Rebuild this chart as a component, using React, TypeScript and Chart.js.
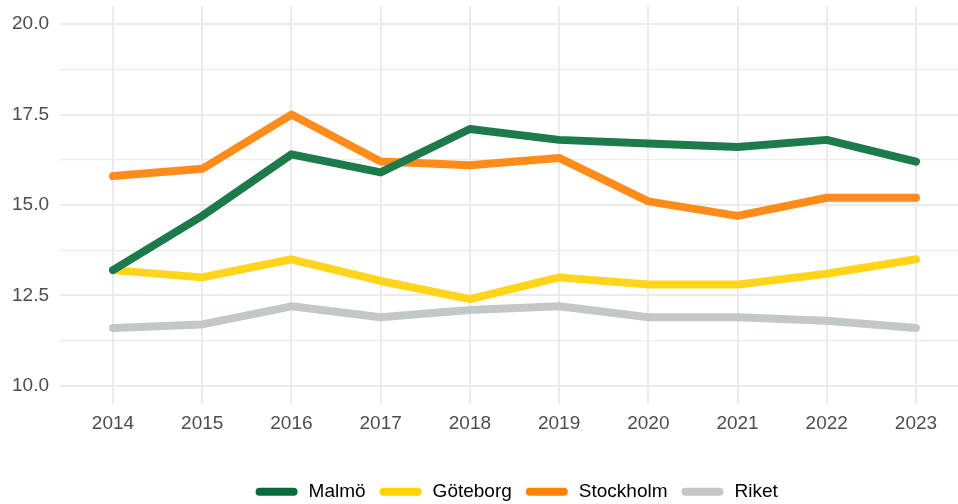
import { useEffect, useRef } from "react";
import { Chart, registerables } from "chart.js";

Chart.register(...registerables);

const years = [2014, 2015, 2016, 2017, 2018, 2019, 2020, 2021, 2022, 2023];
const malmo = [13.2, 14.7, 16.4, 15.9, 17.1, 16.8, 16.7, 16.6, 16.8, 16.2];
const goteborg = [13.2, 13.0, 13.5, 12.9, 12.4, 13.0, 12.8, 12.8, 13.1, 13.5];
const stockholm = [15.8, 16.0, 17.5, 16.2, 16.1, 16.3, 15.1, 14.7, 15.2, 15.2];
const riket = [11.6, 11.7, 12.2, 11.9, 12.1, 12.2, 11.9, 11.9, 11.8, 11.6];

const seriesNames = ["Malmö", "Göteborg", "Stockholm", "Riket"];
const seriesValues = [malmo, goteborg, stockholm, riket];
const lineColors = ["#1d7a4b", "#ffd51c", "#ff8c1a", "#c2c7c8"];
const legendColors = ["#086b39", "#ffd400", "#ff8300", "#c3c7c8"];

const yMajorTicks = [10, 12.5, 15, 17.5, 20];
const yMinorTicks = [11.25, 13.75, 16.25, 18.75];

const FONT = "'Liberation Sans', Arial, Helvetica, sans-serif";

const legendStyle = {
  centerX: 516.7,
  centerY: 491.7,
  keyWidth: 42,
  keyThickness: 8,
  keyTextGap: 11,
  itemGap: 14,
  fontSize: 19,
};

const customLegend = {
  id: "customLegend",
  afterDraw(chart: any) {
    const ctx = chart.ctx as CanvasRenderingContext2D;
    const s = legendStyle;
    ctx.save();
    ctx.font = `${s.fontSize}px ${FONT}`;
    const widths = seriesNames.map((n) => ctx.measureText(n).width);
    const total =
      widths.reduce((a, b) => a + b, 0) +
      seriesNames.length * (s.keyWidth + s.keyTextGap) +
      (seriesNames.length - 1) * s.itemGap;
    let x = s.centerX - total / 2;
    seriesNames.forEach((name, i) => {
      ctx.beginPath();
      ctx.lineCap = "round";
      ctx.lineWidth = s.keyThickness;
      ctx.strokeStyle = legendColors[i];
      const r = s.keyThickness / 2;
      ctx.moveTo(x + r, s.centerY);
      ctx.lineTo(x + s.keyWidth - r, s.centerY);
      ctx.stroke();
      x += s.keyWidth + s.keyTextGap;
      ctx.fillStyle = "#000000";
      ctx.textBaseline = "middle";
      ctx.textAlign = "left";
      ctx.fillText(name, x, s.centerY + 0.5);
      x += widths[i] + s.itemGap;
    });
    ctx.restore();
  },
};

export default function App() {
  const ref = useRef<HTMLCanvasElement | null>(null);

  useEffect(() => {
    if (!ref.current) return;
    const chart = new Chart(ref.current, {
      type: "line",
      data: {
        datasets: seriesNames.map((name, i) => ({
          label: name,
          data: years.map((yr, j) => ({ x: yr, y: seriesValues[i][j] })),
          borderColor: lineColors[i],
          backgroundColor: lineColors[i],
          borderWidth: 8,
          borderCapStyle: "round" as const,
          borderJoinStyle: "round" as const,
          pointRadius: 0,
          pointHoverRadius: 0,
          tension: 0,
          fill: false,
        })),
      },
      options: {
        animation: false,
        responsive: false,
        events: [],
        layout: { padding: { top: 6, left: 0, right: 0, bottom: 0 } },
        scales: {
          x: {
            type: "linear",
            min: 2013.406,
            max: 2023.471,
            afterBuildTicks: (scale: any) => {
              scale.ticks = years.map((v) => ({ value: v }));
            },
            afterFit: (scale: any) => {
              scale.height = 100;
              scale.paddingLeft = 0;
              scale.paddingRight = 0;
            },
            ticks: {
              color: "#4d4d4d",
              font: { family: FONT, size: 19 },
              padding: 8,
              autoSkip: false,
              maxRotation: 0,
              callback: (v: any) => String(v),
            },
            grid: { color: "#ebebeb", lineWidth: 2, drawTicks: false },
            border: { display: false },
          },
          y: {
            type: "linear",
            min: 9.5,
            max: 20.5,
            afterBuildTicks: (scale: any) => {
              scale.ticks = [...yMajorTicks, ...yMinorTicks]
                .sort((a, b) => a - b)
                .map((v) => ({ value: v }));
            },
            afterFit: (scale: any) => {
              scale.width = 60;
              scale.paddingTop = 0;
              scale.paddingBottom = 0;
            },
            ticks: {
              color: "#4d4d4d",
              font: { family: FONT, size: 19 },
              padding: 11,
              autoSkip: false,
              callback: (v: any) =>
                yMajorTicks.includes(Number(v)) ? Number(v).toFixed(1) : "",
            },
            grid: {
              color: "#ebebeb",
              lineWidth: (ctx: any) =>
                yMajorTicks.includes(ctx.tick?.value) ? 2 : 1.3,
              drawTicks: false,
            },
            border: { display: false },
          },
        },
        plugins: {
          tooltip: { enabled: false },
          legend: { display: false },
        },
      } as any,
      plugins: [customLegend],
    });
    return () => chart.destroy();
  }, []);

  return (
    <div style={{ position: "absolute", left: 0, top: 0, width: 958, height: 504, background: "#ffffff" }}>
      <canvas ref={ref} width={958} height={504} style={{ display: "block" }} />
    </div>
  );
}
